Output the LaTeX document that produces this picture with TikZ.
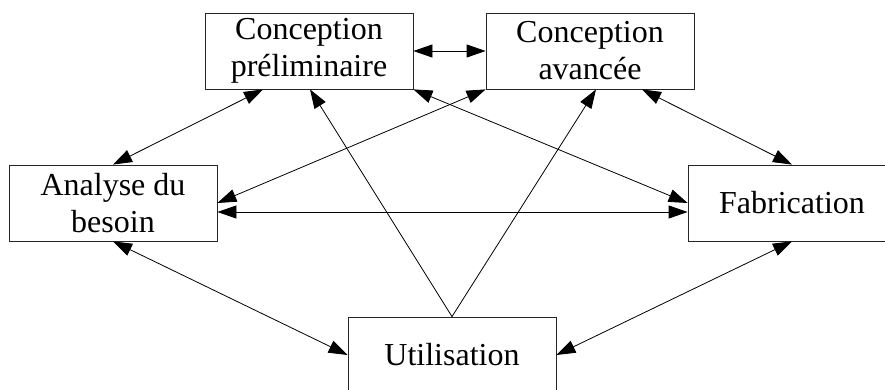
\documentclass[tikz,border=0pt]{standalone}
\usepackage{fontspec}
\setmainfont{Liberation Serif}
\usetikzlibrary{arrows.meta}
\begin{document}
\begin{tikzpicture}[x=1pt,y=-1pt,every node/.style={rectangle,draw=black!85,line width=0.8pt,minimum width=208pt,minimum height=76pt,align=center,font=\fontsize{32}{37}\selectfont},link/.style={line width=0.8pt,{Triangle[length=19pt,width=13pt]}-{Triangle[length=19pt,width=13pt]}},onelink/.style={line width=0.8pt,-{Triangle[length=19pt,width=13pt]}}]
			\useasboundingbox (0,0) rectangle (885,390);
			%top nodes
			\node (cp) at (309,51) {Conception\\préliminaire};
			\node (ca) at (590,51) {Conception\\avancée};

			%middle nodes
			\node (ana) at (113,203) {Analyse du\\besoin};
			\node (fab) at (792,203) {Fabrication};

			%bottom node
			\node (ut) at (452,355) {Utilisation};

			%edges
			\draw[link] (cp.east) -- (ca.west);
			\draw[link] (ana.north) -- ([xshift=-46pt]cp.south);
			\draw[onelink] (ut.north) -- ([xshift=1pt]cp.south);
			\draw[onelink] (ut.north) -- ([xshift=6pt]ca.south);
			\draw[link] (cp.south east) -- (fab.west);
			\draw[link] (ca.south west) -- (ana.east);
			\draw[link] ([yshift=-9pt]ana.east) -- ([yshift=-9pt]fab.west);
			\draw[link] ([xshift=52pt]ca.south) -- (fab.north);
			\draw[link] (ana.south) -- (ut.west);
			\draw[link] (fab.south) -- (ut.east);
		\end{tikzpicture}
\end{document}
